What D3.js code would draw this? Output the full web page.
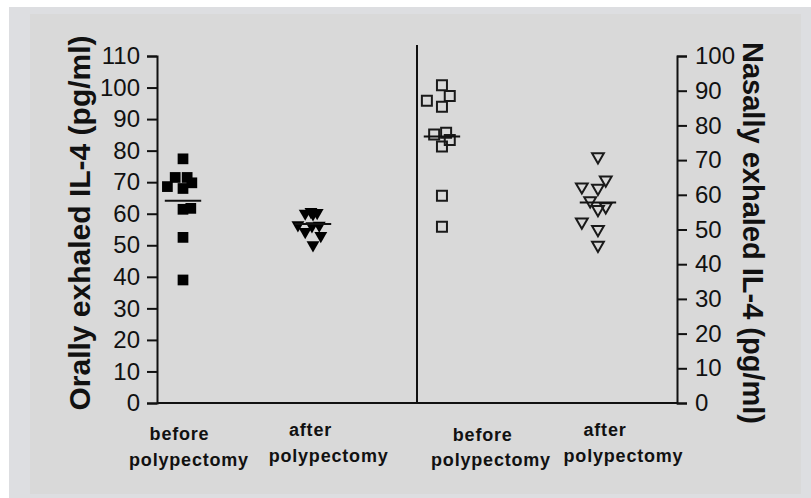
<!DOCTYPE html>
<html>
<head>
<meta charset="utf-8">
<script src="https://cdn.jsdelivr.net/npm/d3@7"></script>
<style>
  body { margin: 0; background: #fff; }
  text { font-family: "Liberation Sans", Arial, Helvetica, sans-serif; fill: #111; }
</style>
</head>
<body>
<div id="chart"></div>
<script>
// values (pg/ml)
var oralBefore  = [77.4, 71.5, 71.5, 69.8, 68.6, 68.0, 61.4, 61.7, 52.5, 39.0];
var oralAfter   = [60.1, 60.6, 60.3, 59.9, 56.4, 56.1, 56.3, 54.3, 53.0, 50.1];
var nasalBefore = [91.6, 87.1, 88.5, 85.4, 77.4, 77.9, 75.8, 73.9, 59.7, 50.8];
var nasalAfter  = [71.0, 64.3, 62.3, 61.9, 58.3, 55.8, 56.6, 52.2, 50.0, 45.5];

// horizontal scatter of the points inside each column (x units)
var oralBeforeJitter  = [0, -0.15, 0.08, 0.17, -0.30, 0, 0, 0.15, 0, 0];
var oralAfterJitter   = [-0.15, -0.04, 0.08, 0, -0.29, -0.02, 0.12, -0.15, 0.15, 0];
var nasalBeforeJitter = [0, -0.29, 0.15, 0, -0.15, 0.08, 0.15, 0, 0, 0];
var nasalAfterJitter  = [0, 0.15, -0.31, 0, -0.15, 0, 0.15, -0.31, 0, 0];

var categories = ["before polypectomy", "after polypectomy", "before polypectomy", "after polypectomy"];
var leftTicks  = [0, 10, 20, 30, 40, 50, 60, 70, 80, 90, 100, 110];
var rightTicks = [0, 10, 20, 30, 40, 50, 60, 70, 80, 90, 100];

var width = 811, height = 498;
var svg = d3.select("#chart").append("svg").attr("width", width).attr("height", height);

// background frames
svg.append("rect").attr("x", 9).attr("y", 7).attr("width", width - 9).attr("height", height - 7).attr("fill", "#dddee1");
svg.append("rect").attr("x", 30).attr("y", 14).attr("width", 771).attr("height", 480).attr("fill", "#d9d9d9");

var x = d3.scaleLinear().domain([0, 10]).range([157, 677]);
var yLeft = d3.scaleLinear().domain([0, 110]).range([403, 56]);
var yRight = d3.scaleLinear().domain([0, 100]).range([403, 56]);

var catPos = [0.5, 3, 5.48, 8.48];
var groups = [
  { values: oralBefore,  jitter: oralBeforeJitter,  y: yLeft,  shape: "square",   filled: true },
  { values: oralAfter,   jitter: oralAfterJitter,   y: yLeft,  shape: "triangle", filled: true },
  { values: nasalBefore, jitter: nasalBeforeJitter, y: yRight, shape: "square",   filled: false },
  { values: nasalAfter,  jitter: nasalAfterJitter,  y: yRight, shape: "triangle", filled: false }
];

// axes
var leftAxis = d3.axisLeft(yLeft).tickValues(leftTicks).tickSize(10).tickPadding(7);
var gl = svg.append("g").attr("transform", "translate(" + x(0) + ",0)").call(leftAxis);
var rightAxis = d3.axisRight(yRight).tickValues(rightTicks).tickSize(10).tickPadding(8);
var gr = svg.append("g").attr("transform", "translate(" + x(10) + ",0)").call(rightAxis);
[gl, gr].forEach(function(g) {
  g.select(".domain").attr("stroke", "#111").attr("stroke-width", 2);
  g.selectAll(".tick line").attr("stroke", "#111").attr("stroke-width", 2);
  g.selectAll(".tick text").attr("font-size", "24px").attr("fill", "#111")
    .style("font-family", "'Liberation Sans', Arial, sans-serif");
});

// bottom line and divider
svg.append("line").attr("x1", x(0)).attr("x2", x(10)).attr("y1", yLeft(0)).attr("y2", yLeft(0))
  .attr("stroke", "#111").attr("stroke-width", 2);
svg.append("line").attr("x1", x(5)).attr("x2", x(5)).attr("y1", 45).attr("y2", yLeft(0))
  .attr("stroke", "#111").attr("stroke-width", 2);

// points
groups.forEach(function(g, gi) {
  var sym = g.shape == "square"
    ? d3.symbol().type(d3.symbolSquare).size(g.filled ? 115 : 100)
    : d3.symbol().type(d3.symbolTriangle).size(g.filled ? 72 : 60);
  svg.append("g").selectAll("path").data(g.values).enter().append("path")
    .attr("d", sym)
    .attr("transform", function(d, i) {
      var t = "translate(" + x(catPos[gi] + g.jitter[i]) + "," + g.y(d) + ")";
      if (g.shape == "triangle") t += " rotate(180)";
      return t;
    })
    .attr("fill", g.filled ? "#000" : "none")
    .attr("stroke", g.filled ? "none" : "#1a1a1a")
    .attr("stroke-width", 2);

  var m = d3.mean(g.values);
  svg.append("line")
    .attr("x1", x(catPos[gi] - 0.35)).attr("x2", x(catPos[gi] + 0.35))
    .attr("y1", g.y(m)).attr("y2", g.y(m))
    .attr("stroke", "#111").attr("stroke-width", 2);
});

// category labels (two lines each)
var firstLineX  = [179.5, 310.5, 482.7, 605];
var secondLineX = [189, 328.6, 491, 623.5];
var firstLineY  = [440, 436, 441, 436];
var secondLineY = [466, 462, 466, 462];
categories.forEach(function(c, i) {
  var parts = c.split(" ");
  svg.append("text").attr("x", firstLineX[i]).attr("y", firstLineY[i])
    .attr("text-anchor", "middle").attr("font-size", "18px").attr("font-weight", "bold")
    .attr("letter-spacing", "0.8px").text(parts[0]);
  svg.append("text").attr("x", secondLineX[i]).attr("y", secondLineY[i])
    .attr("text-anchor", "middle").attr("font-size", "18px").attr("font-weight", "bold")
    .attr("letter-spacing", "0.8px").text(parts[1]);
});

// axis titles
svg.append("text").attr("transform", "translate(79,223) rotate(-90)")
  .attr("text-anchor", "middle").attr("dominant-baseline", "central")
  .attr("font-size", "30px").attr("font-weight", "bold")
  .text("Orally exhaled IL-4 (pg/ml)");
svg.append("text").attr("transform", "translate(753,233) rotate(90)")
  .attr("text-anchor", "middle").attr("dominant-baseline", "central")
  .attr("font-size", "29px").attr("font-weight", "bold")
  .text("Nasally exhaled IL-4 (pg/ml)");
</script>
</body>
</html>
